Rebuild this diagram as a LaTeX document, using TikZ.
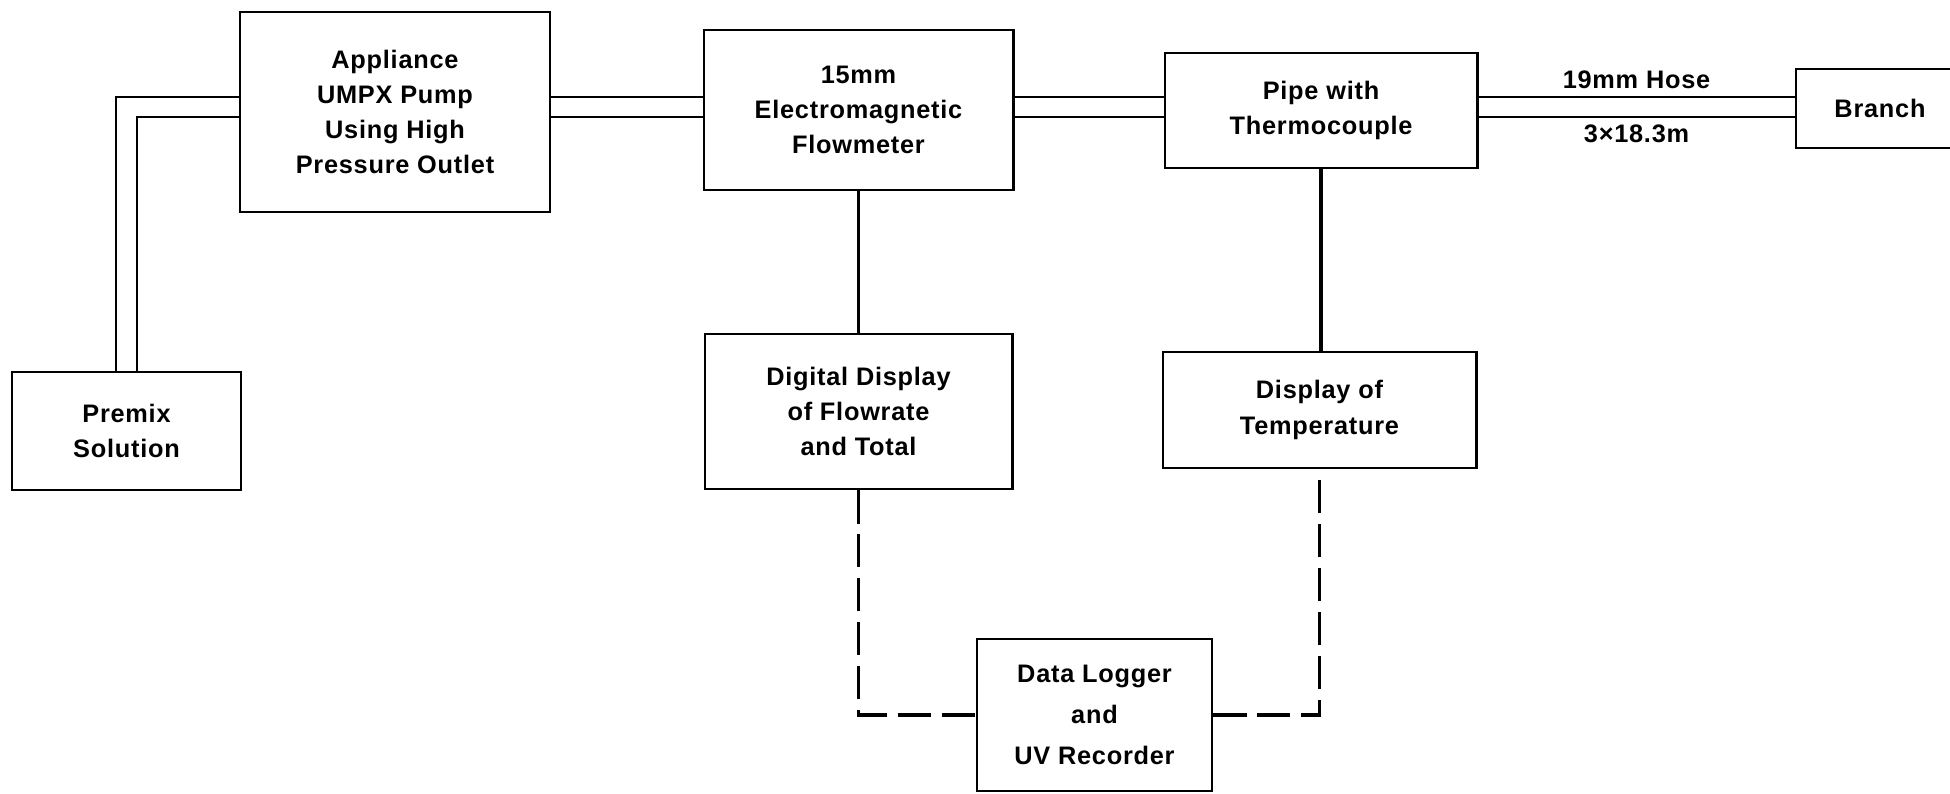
\documentclass[tikz,border=0pt]{standalone}
\usepackage{fontspec}
\newfontfamily\diagfont{Liberation Sans}[LetterSpace=3.0]
\usetikzlibrary{calc, positioning}

\begin{document}
\begin{tikzpicture}[
  x=0.01cm, y=0.01cm,
  unit/.style={
    draw, line width=0.8pt, align=center, inner sep=0pt,
    font=\diagfont\bfseries\fontsize{7.2}{10}\selectfont
  },
  hoselbl/.style={font=\diagfont\bfseries\fontsize{7.2}{9}\selectfont, inner sep=1pt},
  hoseline/.style={line width=0.6pt},
  wire/.style={line width=1.1pt},
  signal/.style={line width=0.9pt, dash pattern=on 9.4pt off 3.1pt}
]
\useasboundingbox (0,0) rectangle (1950,793);

% ============ ROW 1: pump line ============
\node[unit, minimum width=2.29cm, minimum height=1.18cm] (premix) at (126.5,362)
  {Premix\\Solution};
\node[unit, minimum width=3.10cm, minimum height=2.00cm] (appl) at (395,681)
  {Appliance\\UMPX Pump\\Using High\\Pressure Outlet};
\node[unit, minimum width=3.09cm, minimum height=1.60cm] (flow) at (858.5,683)
  {15mm\\Electromagnetic\\Flowmeter};
\node[unit, minimum width=3.12cm, minimum height=1.15cm] (tcpipe) at (1321,682.5)
  {Pipe with\\Thermocouple};
\node[unit, minimum width=1.68cm, minimum height=0.79cm] (branch) at (1880,684.5)
  {Branch};

% ============ ROW 2: displays ============
\node[unit, minimum width=3.07cm, minimum height=1.55cm] (digital) at (858.5,381.5)
  {Digital Display\\of Flowrate\\and Total};
\node[unit, minimum width=3.13cm, minimum height=1.16cm] (temp) at (1319.5,383)
  {Display of\\Temperature};

% ============ ROW 3: recorder ============
\node[unit, minimum width=2.35cm, minimum height=1.52cm,
  font=\diagfont\bfseries\fontsize{7.2}{11.7}\selectfont] (logger) at (1094.5,78)
  {Data Logger\\and\\UV Recorder};

% hose levels (double line)
\coordinate (hi) at (0,696);
\coordinate (lo) at (0,676);
\coordinate (feedout) at (116,0);
\coordinate (feedin) at (137,0);

% suction from premix into the pump
\draw[hoseline] (premix.north -| feedout) |- (appl.west |- hi);
\draw[hoseline] (premix.north -| feedin) |- (appl.west |- lo);

% delivery: pump -> flowmeter -> pipe -> branch
\foreach \lvl in {hi,lo}{
  \draw[hoseline] (appl.east |- \lvl) -- (flow.west |- \lvl);
  \draw[hoseline] (flow.east |- \lvl) -- (tcpipe.west |- \lvl);
}
\draw[hoseline] (tcpipe.east |- hi) -- node[hoselbl, above=1pt] (hosesize) {19mm Hose}
  (branch.west |- hi);
\draw[hoseline] (tcpipe.east |- lo) -- node[hoselbl, below=1pt] (hoselen) {3×18.3m}
  (branch.west |- lo);

% instrument leads
\draw[wire] (flow.south) -- (digital.north);
\draw[wire] (tcpipe.south) -- (tcpipe.south |- temp.north);

% signal leads to the recorder
\draw[signal] (digital.south) |- (logger.west);
\draw[signal] (logger.east) -| (temp.south);

\end{tikzpicture}
\end{document}
